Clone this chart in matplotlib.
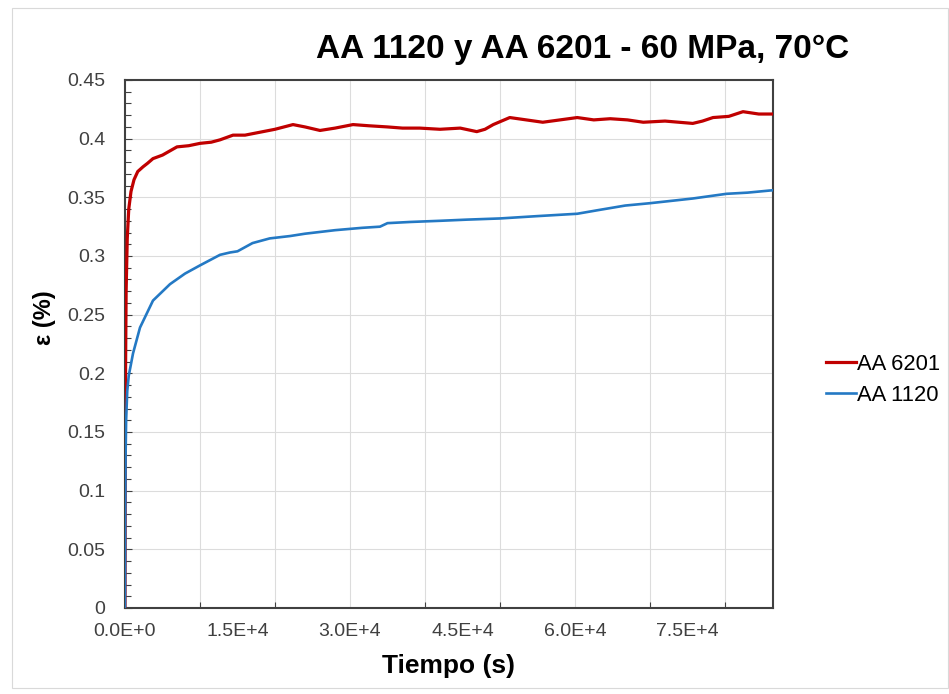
import matplotlib
matplotlib.use("Agg")
import matplotlib.pyplot as plt
from matplotlib.patches import Rectangle

plt.rcParams['font.family'] = ['Liberation Sans', 'DejaVu Sans']

# ---- data ----
t_6201 = [0, 60, 150, 300, 500, 800, 1200, 1700, 2400, 3000, 3730, 5000, 6930, 8500,
          10000, 11500, 12670, 14400, 16000, 18400, 20000, 22400, 24000, 26000, 28000,
          30400, 32500, 35000, 37000, 39300, 42000, 44700, 46900, 48000, 49100, 51300,
          53500, 55700, 58000, 60300, 62500, 64700, 67000, 69100, 72000, 75700, 77000,
          78400, 80500, 82400, 84500, 86300]
e_6201 = [0, 0.19, 0.27, 0.315, 0.34, 0.355, 0.365, 0.372, 0.376, 0.379, 0.383, 0.386,
          0.393, 0.394, 0.396, 0.397, 0.399, 0.403, 0.403, 0.406, 0.408, 0.412, 0.410,
          0.407, 0.409, 0.412, 0.411, 0.410, 0.409, 0.409, 0.408, 0.409, 0.406, 0.408,
          0.412, 0.418, 0.416, 0.414, 0.416, 0.418, 0.416, 0.417, 0.416, 0.414, 0.415,
          0.413, 0.415, 0.418, 0.419, 0.423, 0.421, 0.421]

t_1120 = [0, 30, 80, 150, 300, 500, 800, 1070, 2000, 3730, 6000, 8000, 10000, 12670,
          14000, 15000, 17000, 19300, 22000, 24000, 28000, 31600, 34000, 35000, 38000,
          42000, 45600, 50000, 55000, 60300, 63000, 66700, 70000, 75700, 80200, 83000, 86300]
e_1120 = [0, 0.08, 0.13, 0.16, 0.185, 0.198, 0.208, 0.217, 0.239, 0.262, 0.276, 0.285,
          0.292, 0.301, 0.303, 0.304, 0.311, 0.315, 0.317, 0.319, 0.322, 0.324, 0.325,
          0.328, 0.329, 0.330, 0.331, 0.332, 0.334, 0.336, 0.339, 0.343, 0.345, 0.349,
          0.353, 0.354, 0.356]

series_names = ['AA 6201', 'AA 1120']
x_label_pos = [0, 15000, 30000, 45000, 60000, 75000]
x_labels = ['0.0E+0', '1.5E+4', '3.0E+4', '4.5E+4', '6.0E+4', '7.5E+4']
x_grid_pos = [10000, 20000, 30000, 40000, 50000, 60000, 70000, 80000]
y_ticks = [0, 0.05, 0.1, 0.15, 0.2, 0.25, 0.3, 0.35, 0.4, 0.45]
y_labels = ['0', '0.05', '0.1', '0.15', '0.2', '0.25', '0.3', '0.35', '0.4', '0.45']
y_minor = [i / 100 for i in range(0, 46)]

W, H = 949, 694
fig = plt.figure(figsize=(W / 100, H / 100), dpi=100)
ax = fig.add_axes([125 / W, 1 - 608 / H, (773 - 125) / W, (608 - 80) / H])

ax.plot(t_6201, e_6201, color='#c00000', lw=2.3, label=series_names[0], zorder=3)
ax.plot(t_1120, e_1120, color='#2479c4', lw=1.9, label=series_names[1], zorder=4)

ax.set_xlim(0, 86400)
ax.set_ylim(0, 0.45)

# x: labels every 1.5E+4, tick marks & grid every 1E+4
ax.set_xticks(x_label_pos)
ax.set_xticklabels(x_labels)
ax.set_xticks(x_grid_pos, minor=True)
ax.tick_params(axis='x', which='major', length=0, pad=11, labelsize=14, labelcolor='#404040')
ax.tick_params(axis='x', which='minor', direction='in', length=4, width=0.8, color='#404040')

ax.set_yticks(y_ticks)
ax.set_yticklabels(y_labels)
ax.set_yticks(y_minor, minor=True)
ax.tick_params(axis='y', which='major', direction='in', length=5, width=0.8,
               pad=14, labelsize=14, labelcolor='#404040', color='#404040')
ax.tick_params(axis='y', which='minor', direction='in', length=4, width=0.8, color='#404040')

ax.grid(False)
for x in x_grid_pos:
    ax.axvline(x, color='#dcdcdc', lw=0.8, zorder=1)
for y in y_ticks[1:-1]:
    ax.axhline(y, color='#dcdcdc', lw=0.8, zorder=1)

for s in ax.spines.values():
    s.set_color('#404040')
    s.set_linewidth(1.5)

fig.text(583 / W, 1 - 58 / H, 'AA 1120 y AA 6201 - 60 MPa, 70°C', ha='center',
         va='baseline', fontsize=24, fontweight='bold')
fig.text(449 / W, 1 - 666 / H, 'Tiempo (s)', ha='center', va='center',
         fontsize=19, fontweight='bold')
fig.text(44 / W, 1 - 318 / H, 'ε (%)', ha='center', va='center', rotation=90,
         fontsize=17, fontweight='bold')

fig.legend(loc='center left', bbox_to_anchor=(826 / W, 1 - 380 / H), frameon=False,
           fontsize=15.8, handlelength=1.35, handletextpad=0.05, borderpad=0,
           borderaxespad=0, labelspacing=0.45)

fig.patches.append(Rectangle((12 / W, 6 / H), (W - 13) / W, (H - 14) / H,
                             transform=fig.transFigure, fill=False,
                             edgecolor='#d9d9d9', lw=0.8))

fig.savefig('out.png', dpi=100, facecolor='white')
